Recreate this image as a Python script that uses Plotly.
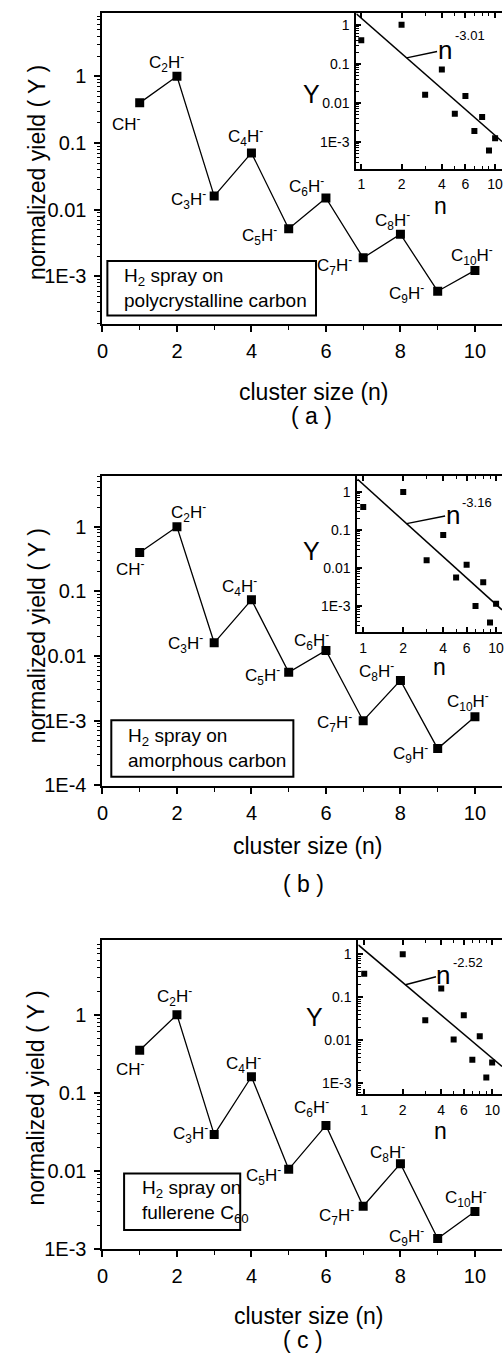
import numpy as np
import plotly.graph_objects as go

# ---------------- data ----------------
cluster_n = [1, 2, 3, 4, 5, 6, 7, 8, 9, 10]
yield_polycrystalline = [0.40, 1.0, 0.016, 0.071, 0.0052, 0.015, 0.0019, 0.0043, 0.00060, 0.00123]
yield_amorphous = [0.40, 1.0, 0.016, 0.074, 0.0056, 0.0122, 0.0010, 0.0042, 0.00037, 0.00115]
yield_fullerene = [0.35, 1.0, 0.029, 0.16, 0.0104, 0.038, 0.0035, 0.0123, 0.00135, 0.0030]
species = ["CH<sup>-</sup>", "C<sub>2</sub>H<sup>-</sup>", "C<sub>3</sub>H<sup>-</sup>",
           "C<sub>4</sub>H<sup>-</sup>", "C<sub>5</sub>H<sup>-</sup>", "C<sub>6</sub>H<sup>-</sup>",
           "C<sub>7</sub>H<sup>-</sup>", "C<sub>8</sub>H<sup>-</sup>", "C<sub>9</sub>H<sup>-</sup>",
           "C<sub>10</sub>H<sup>-</sup>"]
fit_prefactor = [1.48, 1.58, 1.26]
fit_exponent = [-3.01, -3.16, -2.52]
substrate_text = ["H<sub>2</sub> spray on<br>polycrystalline carbon",
                  "H<sub>2</sub> spray on<br>amorphous carbon",
                  "H<sub>2</sub> spray on<br>fullerene C<sub>60</sub>"]
panel_tag = ["( a )", "( b )", "( c )"]
x_title = "cluster size (n)"
y_title = "normalized yield ( Y )"
main_x_ticks = [0, 2, 4, 6, 8, 10]
main_y_ticks = [[0.001, 0.01, 0.1, 1], [0.0001, 0.001, 0.01, 0.1, 1], [0.001, 0.01, 0.1, 1]]
main_y_ticktext = [["1E-3", "0.01", "0.1", "1"], ["1E-4", "1E-3", "0.01", "0.1", "1"],
                   ["1E-3", "0.01", "0.1", "1"]]
inset_x_ticks = [1, 2, 4, 6, 10]
inset_y_ticks = [0.001, 0.01, 0.1, 1]
inset_y_ticktext = ["1E-3", "0.01", "0.1", "1"]

series = [yield_polycrystalline, yield_amorphous, yield_fullerene]

# ---------------- geometry / style (pixels) ----------------
W, H = 504, 1365
FONT = "Liberation Sans, Arial, Helvetica, sans-serif"


def px(x):
    return x / W


def py(y):
    return 1 - y / H


geom = [
    dict(top=13, bot=327, one=77, dec=67.3,
         ibot=170, ileft=356, ione_x=361, idec_x=136, ione_y=25, idec_y=39.3,
         box=(103, 263, 315, 318), boxtext_x=118,
         ytitle=(31, 174), xtitle=(313, 395), tag=(310, 419),
         iY=(310, 95), in_=(442, 208),
         tip_n=2.18, n_off=(38, -8), sup_off=(63, -22),
         offs=[(-13, 20), (-10, -14), (-26, 3), (-6, -16), (-29, 7), (-19, -11),
               (-29, 8), (-8, -14), (-31, 2), (-3, -15)]),
    dict(top=480, bot=792, one=531, dec=65.25,
         ibot=637, ileft=357, ione_x=363, idec_x=135, ione_y=496, idec_y=38.3,
         box=(107, 726, 292, 783), boxtext_x=122,
         ytitle=(31, 641), xtitle=(307, 853), tag=(302, 891),
         iY=(310, 555), in_=(440, 672),
         tip_n=2.12, n_off=(46, -9), sup_off=(70, -21),
         offs=[(-9, 16), (12, -14), (-29, 1), (-12, -13), (-26, 3), (-14, -10),
               (-29, 2), (-24, -9), (-27, 5), (-7, -15)]),
    dict(top=948, bot=1259, one=1023, dec=78.7,
         ibot=1103, ileft=358, ione_x=364, idec_x=130, ione_y=962, idec_y=43.3,
         box=(120, 1183, 238, 1240), boxtext_x=136,
         ytitle=(31, 1107), xtitle=(308, 1327), tag=(302, 1351),
         iY=(313, 1025), in_=(442, 1140),
         tip_n=2.10, n_off=(38, -10), sup_off=(63, -22),
         offs=[(-9, 18), (-2, -18), (-24, -1), (-8, -13), (-25, 6), (-14, -18),
               (-27, 9), (-13, -11), (-31, -2), (-9, -14)]),
]

X0 = 98          # pixel of x = 0 on the main axes
PPU = 37.85      # pixels per unit of cluster size

fig = go.Figure()
annotations = []
shapes = []
layout = {}

log_minor = [k * 10.0 ** d for d in range(-5, 2) for k in range(2, 10)]


def paper_text(xy, text, size, angle=0):
    return dict(x=px(xy[0]), y=py(xy[1]), xref="paper", yref="paper",
                xanchor="center", yanchor="middle", text=text, textangle=angle,
                showarrow=False, font=dict(family=FONT, size=size, color="black"))


for i, g in enumerate(geom):
    mx = "x" if i == 0 else f"x{2 * i + 1}"
    my = "y" if i == 0 else f"y{2 * i + 1}"
    ix = f"x{2 * i + 2}"
    iy = f"y{2 * i + 2}"
    mxk = "xaxis" if i == 0 else f"xaxis{2 * i + 1}"
    myk = "yaxis" if i == 0 else f"yaxis{2 * i + 1}"
    ixk = f"xaxis{2 * i + 2}"
    iyk = f"yaxis{2 * i + 2}"

    # main traces
    fig.add_trace(go.Scatter(
        x=cluster_n, y=series[i], mode="lines+markers", xaxis=mx, yaxis=my,
        line=dict(color="black", width=1.3),
        marker=dict(symbol="square", size=9, color="black"),
        showlegend=False, hoverinfo="skip"))

    # inset traces
    ixr = [(g["ileft"] - g["ione_x"]) / g["idec_x"], (W - g["ione_x"]) / g["idec_x"]]
    iyr = [-(g["ibot"] - g["ione_y"]) / g["idec_y"], (g["ione_y"] - g["top"]) / g["idec_y"]]
    n_line = np.array([10 ** ixr[0], 10 ** ixr[1]])
    fig.add_trace(go.Scatter(
        x=n_line, y=fit_prefactor[i] * n_line ** fit_exponent[i], mode="lines",
        xaxis=ix, yaxis=iy, line=dict(color="black", width=1.5),
        showlegend=False, hoverinfo="skip"))
    fig.add_trace(go.Scatter(
        x=cluster_n, y=series[i], mode="markers", xaxis=ix, yaxis=iy,
        marker=dict(symbol="square", size=6, color="black"),
        showlegend=False, hoverinfo="skip"))

    # main axes
    layout[mxk] = dict(
        domain=[px(X0), 1], range=[0, (W - X0) / PPU], anchor=my,
        showline=True, linewidth=2, linecolor="black", mirror=True,
        ticks="outside", ticklen=6, tickwidth=1.5, tickcolor="black",
        tickvals=main_x_ticks, ticktext=[str(v) for v in main_x_ticks],
        minor=dict(tickvals=[1, 3, 5, 7, 9], ticks="outside", ticklen=4,
                   tickcolor="black", tickwidth=1.2),
        showgrid=False, zeroline=False, ticklabeloverflow="allow",
        tickfont=dict(family=FONT, size=20, color="black"), ticklabelstandoff=2)
    yr = [-(g["bot"] - g["one"]) / g["dec"] - 0.004, (g["one"] - g["top"]) / g["dec"]]
    layout[myk] = dict(
        domain=[py(g["bot"]), py(g["top"])], type="log", range=yr, anchor=mx,
        showline=True, linewidth=2, linecolor="black", mirror=False,
        ticks="outside", ticklen=6, tickwidth=1.5, tickcolor="black",
        tickvals=main_y_ticks[i], ticktext=main_y_ticktext[i],
        minor=dict(tickvals=log_minor, ticks="outside", ticklen=3,
                   tickcolor="black", tickwidth=1),
        showgrid=False, zeroline=False, ticklabeloverflow="allow",
        tickfont=dict(family=FONT, size=20, color="black"), ticklabelstandoff=4)

    # inset axes
    layout[ixk] = dict(
        domain=[px(g["ileft"]), 1], type="log", range=ixr, anchor=iy,
        showline=True, linewidth=2, linecolor="black", mirror="ticks",
        ticks="inside", ticklen=5, tickwidth=1.5, tickcolor="black",
        tickvals=inset_x_ticks, ticktext=[str(v) for v in inset_x_ticks],
        minor=dict(tickvals=[3, 5, 7, 8, 9], ticks="inside", ticklen=3,
                   tickcolor="black", tickwidth=1),
        showgrid=False, zeroline=False, ticklabeloverflow="allow",
        tickfont=dict(family=FONT, size=14, color="black"), ticklabelstandoff=2)
    layout[iyk] = dict(
        domain=[py(g["ibot"]), py(g["top"])], type="log", range=iyr, anchor=ix,
        showline=True, linewidth=2, linecolor="black", mirror=False,
        ticks="inside", ticklen=5, tickwidth=1.5, tickcolor="black",
        tickvals=inset_y_ticks, ticktext=inset_y_ticktext,
        minor=dict(tickvals=log_minor, ticks="inside", ticklen=3,
                   tickcolor="black", tickwidth=1),
        showgrid=False, zeroline=False, ticklabeloverflow="allow",
        tickfont=dict(family=FONT, size=14, color="black"), ticklabelstandoff=2)

    # species labels
    for k, n in enumerate(cluster_n):
        dx, dy = g["offs"][k]
        annotations.append(dict(
            x=n, y=np.log10(series[i][k]), xref=mx, yref=my, text=species[k],
            xanchor="center", yanchor="middle",
            showarrow=False, xshift=dx, yshift=-dy,
            font=dict(family=FONT, size=17, color="black")))

    # substrate box
    bx0, by0, bx1, by1 = g["box"]
    shapes.append(dict(type="rect", xref="paper", yref="paper",
                       x0=px(bx0), x1=px(bx1), y0=py(by1), y1=py(by0),
                       line=dict(color="black", width=2)))
    annotations.append(dict(
        x=px(g["boxtext_x"]), y=py((by0 + by1) / 2), xref="paper", yref="paper",
        xanchor="left", yanchor="middle", align="left", text=substrate_text[i],
        showarrow=False, font=dict(family=FONT, size=19, color="black")))

    # titles
    annotations.append(paper_text(g["ytitle"], y_title, 23, -90))
    annotations.append(paper_text(g["xtitle"], x_title, 23))
    annotations.append(paper_text(g["tag"], panel_tag[i], 23))
    annotations.append(paper_text(g["iY"], "Y", 25))
    annotations.append(paper_text(g["in_"], "n", 23))

    # power-law label with pointer to the fit line
    tip_n = g["tip_n"]
    tip_y = fit_prefactor[i] * tip_n ** fit_exponent[i]
    annotations.append(dict(
        x=np.log10(tip_n), y=np.log10(tip_y), xref=ix, yref=iy, text="n",
        showarrow=True, arrowhead=0, arrowwidth=1.5, arrowcolor="black",
        ax=g["n_off"][0], ay=g["n_off"][1], standoff=0, borderpad=0,
        font=dict(family=FONT, size=26, color="black")))
    annotations.append(dict(
        x=np.log10(tip_n), y=np.log10(tip_y), xref=ix, yref=iy,
        xanchor="center", yanchor="middle",
        text=f"{fit_exponent[i]:.2f}", showarrow=False,
        xshift=g["sup_off"][0], yshift=-g["sup_off"][1],
        font=dict(family=FONT, size=13, color="black")))

fig.update_layout(
    width=W, height=H, margin=dict(l=0, r=0, t=0, b=0),
    paper_bgcolor="white", plot_bgcolor="rgba(0,0,0,0)",
    showlegend=False, annotations=annotations, shapes=shapes, **layout)

fig.write_html("out.html")
